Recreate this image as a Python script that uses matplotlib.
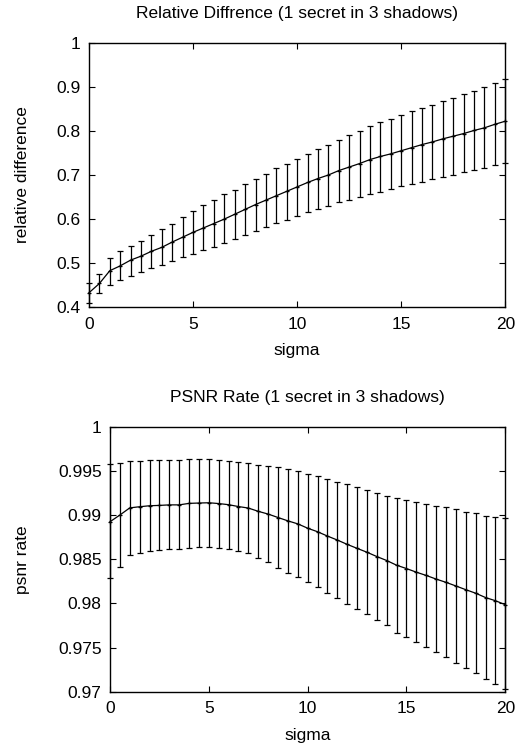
import matplotlib
matplotlib.use("Agg")
import matplotlib.pyplot as plt
from matplotlib.ticker import FuncFormatter

plt.rcParams['font.family'] = ['Liberation Sans', 'DejaVu Sans']

sigma = [i * 0.5 for i in range(41)]

rd_mean = [0.433, 0.454, 0.483, 0.494, 0.507, 0.516, 0.527, 0.536, 0.548, 0.559,
           0.570, 0.580, 0.590, 0.600, 0.611, 0.622, 0.633, 0.643, 0.653, 0.663,
           0.673, 0.683, 0.692, 0.700, 0.710, 0.718, 0.726, 0.735, 0.742, 0.748,
           0.755, 0.762, 0.769, 0.775, 0.782, 0.788, 0.794, 0.801, 0.807, 0.815,
           0.822]
rd_upper = [0.454, 0.475, 0.512, 0.528, 0.540, 0.551, 0.563, 0.577, 0.590, 0.604,
            0.618, 0.631, 0.643, 0.656, 0.667, 0.680, 0.691, 0.703, 0.715, 0.726,
            0.737, 0.748, 0.758, 0.769, 0.780, 0.790, 0.800, 0.810, 0.820, 0.828,
            0.837, 0.845, 0.852, 0.859, 0.868, 0.875, 0.883, 0.891, 0.899, 0.908,
            0.917]
rd_lower = [0.410, 0.432, 0.450, 0.462, 0.472, 0.481, 0.488, 0.496, 0.505, 0.513,
            0.521, 0.530, 0.537, 0.546, 0.555, 0.565, 0.574, 0.583, 0.591, 0.599,
            0.608, 0.615, 0.623, 0.630, 0.638, 0.644, 0.650, 0.657, 0.662, 0.669,
            0.674, 0.680, 0.685, 0.690, 0.696, 0.701, 0.706, 0.711, 0.717, 0.722,
            0.728]

psnr_mean = [0.98924, 0.99000, 0.99081, 0.99094, 0.99105, 0.99109, 0.99115, 0.99115, 0.99132, 0.99136,
             0.99139, 0.99130, 0.99117, 0.99096, 0.99079, 0.99042, 0.99011, 0.98972, 0.98934, 0.98900,
             0.98851, 0.98811, 0.98762, 0.98717, 0.98668, 0.98623, 0.98579, 0.98530, 0.98485, 0.98432,
             0.98394, 0.98353, 0.98316, 0.98275, 0.98238, 0.98197, 0.98155, 0.98115, 0.98066, 0.98030,
             0.97985]
psnr_upper = [0.99574, 0.99592, 0.99615, 0.99615, 0.99623, 0.99623, 0.99623, 0.99620, 0.99634, 0.99636,
              0.99638, 0.99627, 0.99615, 0.99600, 0.99592, 0.99570, 0.99558, 0.99540, 0.99521, 0.99498,
              0.99464, 0.99438, 0.99411, 0.99377, 0.99347, 0.99313, 0.99283, 0.99253, 0.99219, 0.99196,
              0.99166, 0.99147, 0.99125, 0.99102, 0.99087, 0.99068, 0.99038, 0.99019, 0.98992, 0.98977,
              0.98962]
psnr_lower = [0.98283, 0.98408, 0.98543, 0.98573, 0.98592, 0.98600, 0.98611, 0.98615, 0.98630, 0.98634,
              0.98638, 0.98630, 0.98619, 0.98596, 0.98566, 0.98513, 0.98464, 0.98404, 0.98347, 0.98302,
              0.98238, 0.98185, 0.98113, 0.98057, 0.97992, 0.97932, 0.97879, 0.97808, 0.97751, 0.97668,
              0.97623, 0.97559, 0.97506, 0.97449, 0.97392, 0.97328, 0.97271, 0.97215, 0.97140, 0.97083,
              0.97025]

FS = 12.5

fig = plt.figure(figsize=(5.18, 7.47), dpi=100)
ax1 = fig.add_axes([89/518, 1 - 307.3/747, 416.3/518, 264.6/747])
ax2 = fig.add_axes([110/518, 1 - 691.7/747, 395.3/518, 265.0/747])


def draw(ax, x, m, lo, hi):
    yerr = [[mi - l for mi, l in zip(m, lo)], [h - mi for mi, h in zip(m, hi)]]
    ax.errorbar(x, m, yerr=yerr, color='black', ecolor='black', elinewidth=0.9,
                capsize=2.3, capthick=0.9, linewidth=0.9, marker='+',
                markersize=3.5, markeredgewidth=0.9, clip_on=False, zorder=3)
    ax.set_xlim(0, 20)
    ax.set_xticks([0, 5, 10, 15, 20])
    ax.tick_params(direction='in', top=True, right=True, length=4.5, width=0.8,
                   labelsize=FS, pad=6, colors='black')
    ax.tick_params(axis='x', pad=7)
    for s in ax.spines.values():
        s.set_linewidth(1.0)
    ax.yaxis.set_major_formatter(FuncFormatter(lambda v, p: ('%g' % round(v, 4))))


draw(ax1, sigma, rd_mean, rd_lower, rd_upper)
ax1.set_ylim(0.4, 1.0)
ax1.set_yticks([0.4, 0.5, 0.6, 0.7, 0.8, 0.9, 1.0])
ax1.set_title('Relative Diffrence (1 secret in 3 shadows)', fontsize=FS, pad=18)
ax1.set_xlabel('sigma', fontsize=FS, labelpad=8)
ax1.set_ylabel('relative difference', fontsize=FS)
ax1.yaxis.set_label_coords(-0.142, 0.5)

draw(ax2, sigma, psnr_mean, psnr_lower, psnr_upper)
ax2.set_ylim(0.97, 1.0)
ax2.set_yticks([0.97, 0.975, 0.98, 0.985, 0.99, 0.995, 1.0])
ax2.set_title('PSNR Rate (1 secret in 3 shadows)', fontsize=FS, pad=18)
ax2.set_xlabel('sigma', fontsize=FS, labelpad=8)
ax2.set_ylabel('psnr rate', fontsize=FS)
ax2.yaxis.set_label_coords(-0.203, 0.5)

fig.savefig('out.png', dpi=100)
